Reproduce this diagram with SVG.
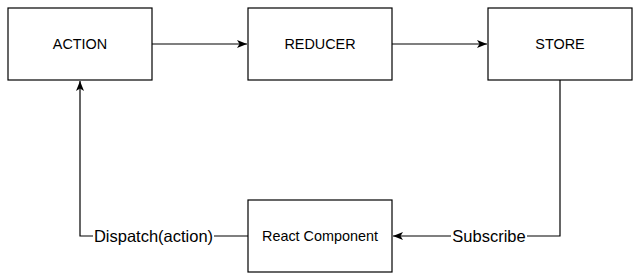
<svg xmlns="http://www.w3.org/2000/svg" width="639" height="277" viewBox="0 0 639 277">
<style>
.box{fill:#fff;stroke:#000;stroke-width:1.2}
.t{font-family:"Liberation Sans",Arial,sans-serif;font-size:14.4px;fill:#000;text-anchor:middle}
.lbl{font-family:"Liberation Sans",Arial,sans-serif;font-size:16.5px;fill:#000;text-anchor:middle}
.edge{fill:none;stroke:#000;stroke-width:1.2}
</style>
<defs>
<marker id="arr" viewBox="0 0 10 8" refX="10" refY="4" markerWidth="10" markerHeight="8" markerUnits="userSpaceOnUse" orient="auto">
<path d="M0,0 L10,4 L0,8 L2.5,4 Z" fill="#000"/>
</marker>
</defs>
<g id="connectors">
<path class="edge" d="M152,44 H247" marker-end="url(#arr)"/>
<path class="edge" d="M392,44 H487" marker-end="url(#arr)"/>
<path class="edge" d="M560,80 V236 H393" marker-end="url(#arr)"/>
<path class="edge" d="M248,236 H80 V81" marker-end="url(#arr)"/>
<rect x="451" y="227" width="76" height="18" fill="#fff"/>
<text class="lbl" x="489" y="242">Subscribe</text>
<rect x="93" y="227" width="121" height="18" fill="#fff"/>
<text class="lbl" x="153.5" y="242">Dispatch(action)</text>
</g>
<g id="action"><rect class="box" x="8" y="8" width="144" height="72"/><text class="t" x="80" y="49">ACTION</text></g>
<g id="reducer"><rect class="box" x="248" y="8" width="144" height="72"/><text class="t" x="320" y="49">REDUCER</text></g>
<g id="store"><rect class="box" x="488" y="8" width="144" height="72"/><text class="t" x="560" y="49">STORE</text></g>
<g id="react"><rect class="box" x="248" y="200" width="144" height="72"/><text class="t" x="320" y="241">React Component</text></g>
</svg>
